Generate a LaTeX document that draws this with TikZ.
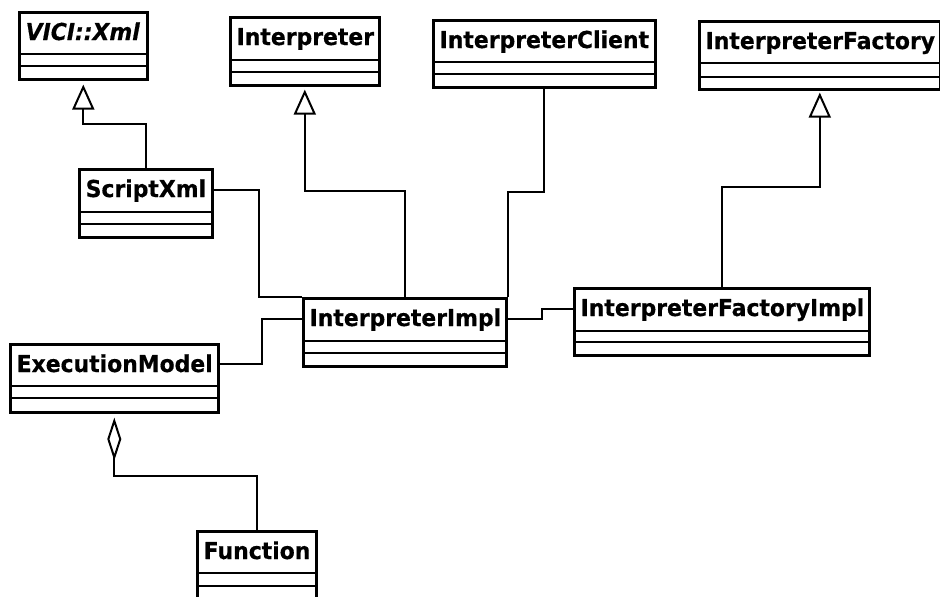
\documentclass[tikz,border=0pt]{standalone}
\usepackage{fontspec}
\setmainfont{DejaVu Sans}[FakeStretch=0.94, BoldFeatures={FakeBold=0.5}, BoldItalicFeatures={FakeBold=0.5}]
\usetikzlibrary{arrows.meta}
\begin{document}
\begin{tikzpicture}[x=1pt,y=-1pt,
  box/.style={draw, line width=2.6pt, rectangle, inner sep=0pt, anchor=north west},
  sep/.style={line width=2.6pt},
  ttl/.style={anchor=base west, inner sep=0pt, font=\fontsize{23.3}{28}\selectfont\bfseries},
  conn/.style={line width=2pt},
  gen/.style={conn, -{Triangle[open, length=25pt, width=22pt, line width=2pt]}},
  agg/.style={conn, {Diamond[open, length=43pt, width=14pt, line width=2pt]}-}]
\useasboundingbox (0,0) rectangle (940,597);
\newcommand\umlcls[9]{%
  \pgfmathsetmacro\clsw{#4-#2}\pgfmathsetmacro\clsh{#7-#3}%
  \node[box, minimum width=\clsw pt, minimum height=\clsh pt] (#1) at (#2,#3) {};
  \draw[sep] (#2,#5) -- (#4,#5) (#2,#6) -- (#4,#6);
  \node[ttl, #9] (#1-t) at (#2+7.5,#3+29) {#8};
}
\umlcls{vici}{18}{11}{146}{54}{66}{78}{VICI::Xml}{font=\fontsize{23.3}{28}\selectfont\bfseries\itshape}
\umlcls{scriptxml}{78}{168}{211}{212}{224}{236}{ScriptXml}{}
\umlcls{interp}{229}{16}{378}{60}{72}{84}{Interpreter}{}
\umlcls{client}{432}{19}{654}{62}{74}{86}{InterpreterClient}{}
\umlcls{ifactory}{698}{20}{939}{63}{77}{88}{InterpreterFactory}{}
\umlcls{impl}{302}{297}{505}{341}{353}{365}{InterpreterImpl}{}
\umlcls{fimpl}{573}{287}{868}{331}{342}{354}{InterpreterFactoryImpl}{}
\umlcls{exec}{9}{343}{217}{386}{398}{411}{ExecutionModel}{}
\umlcls{func}{196}{530}{315}{573}{586}{600}{Function}{}

\draw[gen] (scriptxml.north) -- ++(0,-44) -| ([yshift=-4pt]vici.south);
\draw[gen] (impl.north) -- ++(0,-106) -| ([yshift=-3pt]interp.south);
\draw[conn] (impl.north east) -- ++(0,-105) -| (client.south);
\draw[gen] (fimpl.north) -- ++(0,-100) -| ([yshift=-2pt]ifactory.south);
\draw[conn] ([yshift=-22pt]scriptxml.north east) -- ++(45,0) |- (impl.north west);
\draw[conn] ([yshift=-21pt]exec.north east) -- ++(42,0) |- ([yshift=-22pt]impl.north west);
\draw[conn] ([yshift=-22pt]impl.north east) -- ++(34,0) |- ([yshift=-22pt]fimpl.north west);
\draw[agg] ([yshift=-4pt]exec.south) -- ++(0,58) -| (func.north);
\end{tikzpicture}
\end{document}
